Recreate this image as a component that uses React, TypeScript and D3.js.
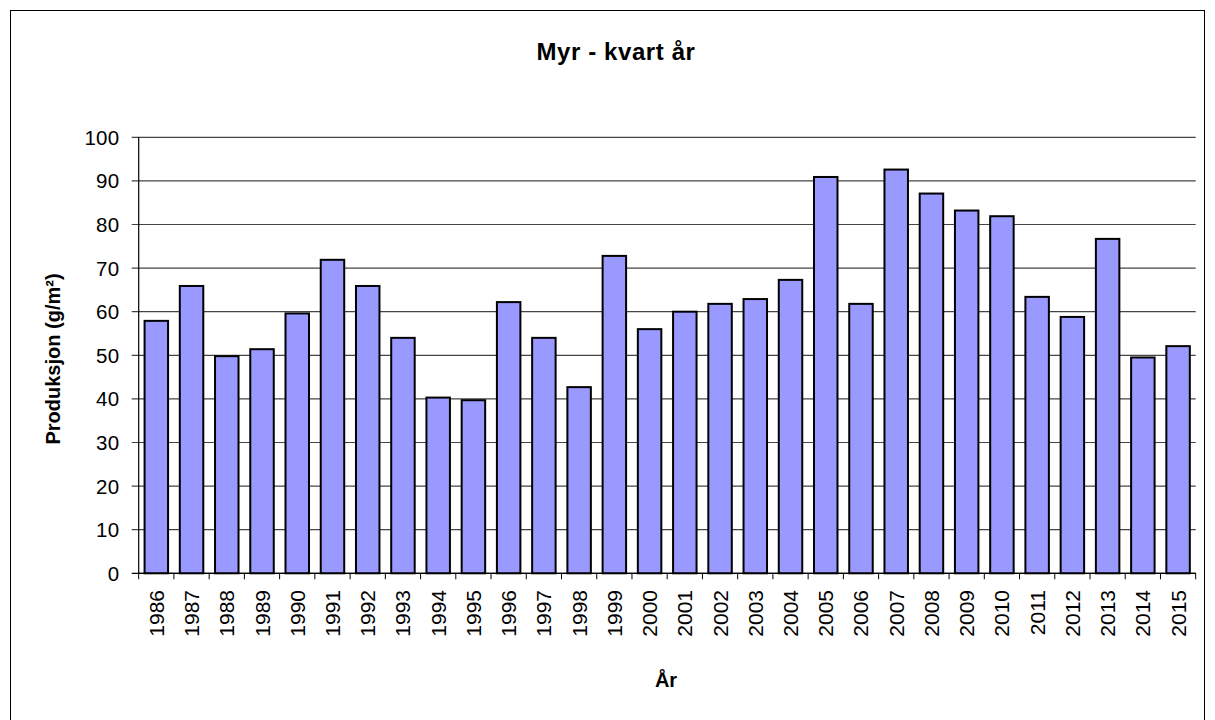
import React from "react";
import * as d3 from "d3";

const years: string[] = [
  "1986","1987","1988","1989","1990","1991","1992","1993","1994","1995",
  "1996","1997","1998","1999","2000","2001","2002","2003","2004","2005",
  "2006","2007","2008","2009","2010","2011","2012","2013","2014","2015",
];
const production: number[] = [
  57.9, 65.9, 49.8, 51.4, 59.6, 71.9, 65.9, 54.0, 40.3, 39.7,
  62.2, 54.0, 42.7, 72.8, 56.0, 60.0, 61.8, 62.9, 67.3, 90.9,
  61.8, 92.6, 87.1, 83.2, 81.9, 63.4, 58.8, 76.7, 49.5, 52.1,
];
const yTicks: number[] = [0, 10, 20, 30, 40, 50, 60, 70, 80, 90, 100];
const title = "Myr - kvart år";
const yTitle = "Produksjon (g/m²)";
const xTitle = "År";

export default function App() {
  const W = 1215, H = 720;
  const left = 138.7, right = 1195.7, top = 137.3, bottom = 573.3;
  const x = d3.scaleBand<string>().domain(years).range([left, right]).paddingInner(1 / 3).paddingOuter(1 / 6);
  const xb = d3.scaleBand<string>().domain(years).range([left, right]);
  const y = d3.scaleLinear().domain([0, 100]).range([bottom, top]);
  const font = "Arial, 'Liberation Sans', Helvetica, sans-serif";

  return (
    <svg width={W} height={H} style={{ position: "absolute", left: 0, top: 0, background: "#fff" }} fontFamily={font}>
      <rect x={10.5} y={10.5} width={1194} height={730} fill="#fff" stroke="#000" strokeWidth={1} />
      <text x={616} y={60} textAnchor="middle" fontWeight="bold" fontSize={24} letterSpacing={0.6}>{title}</text>
      {yTicks.map((t) => (
        <line key={"g" + t} x1={left - 7} x2={right} y1={y(t)} y2={y(t)} stroke={t === 0 ? "#000" : "#444"} strokeWidth={1.2} />
      ))}
      {yTicks.map((t) => (
        <text key={"yl" + t} x={119.5} y={y(t) + 7.5} textAnchor="end" fontSize={20.5} letterSpacing={0.3}>{t}</text>
      ))}
      {years.map((yr, i) => (
        <rect key={yr} x={x(yr)!} y={y(production[i])} width={x.bandwidth()} height={bottom - y(production[i])}
          fill="#9999FF" stroke="#000" strokeWidth={2} />
      ))}
      <line x1={left} x2={left} y1={top} y2={bottom} stroke="#000" strokeWidth={1.2} />
      <line x1={left} x2={right} y1={bottom} y2={bottom} stroke="#000" strokeWidth={1.2} />
      {years.map((yr) => (
        <line key={"xt" + yr} x1={xb(yr)!} x2={xb(yr)!} y1={bottom} y2={bottom + 6} stroke="#000" strokeWidth={1} />
      ))}
      <line x1={right} x2={right} y1={bottom} y2={bottom + 6} stroke="#000" strokeWidth={1} />
      {years.map((yr) => {
        const cx = xb(yr)! + xb.bandwidth() / 2 + 7.5;
        return (
          <text key={"xl" + yr} transform={`translate(${cx},${590}) rotate(-90)`} textAnchor="end" fontSize={21}>{yr}</text>
        );
      })}
      <text x={666} y={687} textAnchor="middle" fontWeight="bold" fontSize={20}>{xTitle}</text>
      <text transform={`translate(60,359) rotate(-90)`} textAnchor="middle" fontWeight="bold" fontSize={20}>{yTitle}</text>
    </svg>
  );
}
